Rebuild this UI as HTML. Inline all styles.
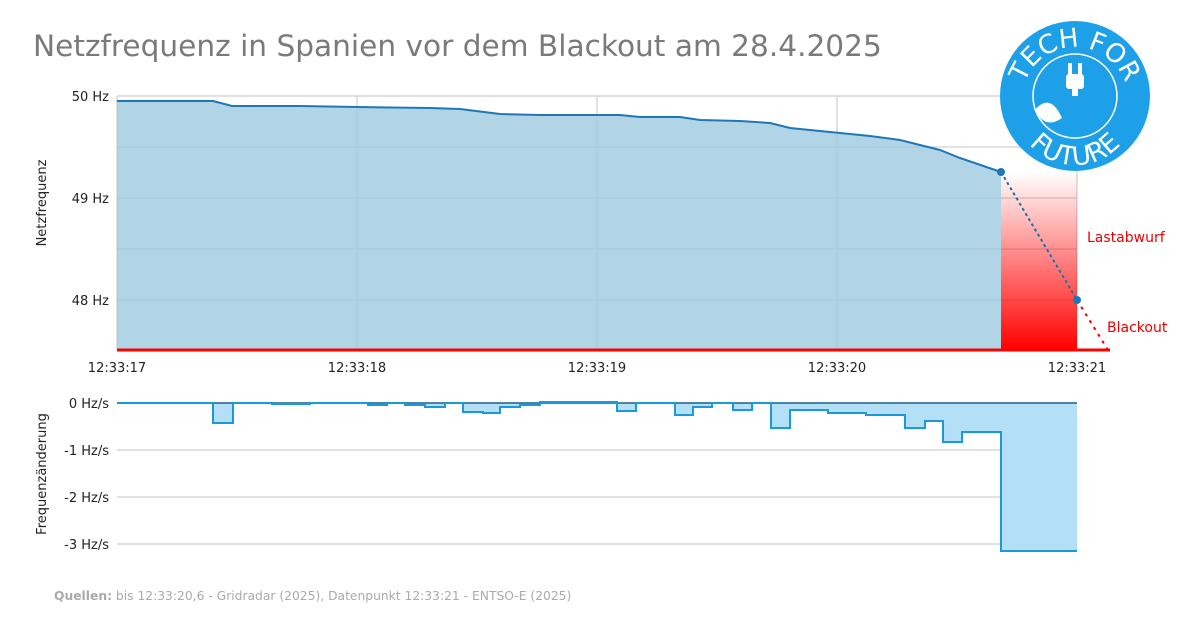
<!DOCTYPE html>
<html><head><meta charset="utf-8"><style>
body{margin:0;background:#fff;font-family:"DejaVu Sans",sans-serif}
</style></head><body>
<svg width="1200" height="630" xmlns="http://www.w3.org/2000/svg" font-family="DejaVu Sans, sans-serif">
<defs>
<linearGradient id="rg" x1="0" y1="0" x2="0" y2="1">
<stop offset="0" stop-color="#f00" stop-opacity="0"/>
<stop offset="1" stop-color="#f00" stop-opacity="1"/>
</linearGradient>
<path id="arcT" d="M1022,100 A53,53 0 0 1 1128,100" fill="none"/>
<path id="arcB" d="M1014,104 A61,61 0 0 0 1136,104" fill="none"/>
</defs>
<text x="33" y="56" font-size="29.6" fill="#7a7a7a">Netzfrequenz in Spanien vor dem Blackout am 28.4.2025</text>
<g stroke="#d8d8d8" stroke-width="1.5">
<line x1="117" y1="96" x2="1077" y2="96"/><line x1="117" y1="147" x2="1077" y2="147"/>
<line x1="117" y1="198" x2="1077" y2="198"/><line x1="117" y1="249" x2="1077" y2="249"/>
<line x1="117" y1="300" x2="1077" y2="300"/>
<line x1="117" y1="96" x2="117" y2="350"/><line x1="357" y1="96" x2="357" y2="350"/>
<line x1="597" y1="96" x2="597" y2="350"/><line x1="837" y1="96" x2="837" y2="350"/>
<line x1="1077" y1="96" x2="1077" y2="350"/>
</g>
<path d="M117,101 L213,101 L232,106 L300,106 L357,107 L430,108 L460,109 L500,114 L540,115 L620,115 L640,117 L680,117 L700,120 L740,121 L770,123 L790,128 L830,132 L870,136 L900,140 L940,150 L960,158 L1001,172 L1001,350 L117,350 Z" fill="#9ecae1" fill-opacity="0.8"/>
<rect x="1001" y="172" width="76" height="178" fill="url(#rg)"/>
<path d="M117,101 L213,101 L232,106 L300,106 L357,107 L430,108 L460,109 L500,114 L540,115 L620,115 L640,117 L680,117 L700,120 L740,121 L770,123 L790,128 L830,132 L870,136 L900,140 L940,150 L960,158 L1001,172" fill="none" stroke="#1f78b4" stroke-width="2"/>
<line x1="1001" y1="172" x2="1077" y2="300" stroke="#1f6fa8" stroke-width="2" stroke-dasharray="3,3"/>
<line x1="1077" y1="300" x2="1108" y2="350" stroke="#e00" stroke-width="2" stroke-dasharray="3,5"/>
<circle cx="1001" cy="172" r="4" fill="#1f78b4"/><circle cx="1077" cy="300" r="4" fill="#1f78b4"/>
<line x1="117" y1="350" x2="1110" y2="350" stroke="#f00" stroke-width="3"/>
<g font-size="13" fill="#222" text-anchor="end">
<text x="109" y="101">50 Hz</text><text x="109" y="203">49 Hz</text><text x="109" y="305">48 Hz</text>
</g>
<g font-size="13" fill="#222" text-anchor="middle">
<text x="117" y="372">12:33:17</text><text x="357" y="372">12:33:18</text><text x="597" y="372">12:33:19</text>
<text x="837" y="372">12:33:20</text><text x="1077" y="372">12:33:21</text>
</g>
<text transform="translate(46,203) rotate(-90)" font-size="13" fill="#222" text-anchor="middle">Netzfrequenz</text>
<text x="1087" y="242" font-size="14" fill="#e00">Lastabwurf</text>
<text x="1107" y="332" font-size="14" fill="#e00">Blackout</text>
<circle cx="1075" cy="96" r="75" fill="#1ea0e8"/>
<circle cx="1075" cy="96" r="42" fill="none" stroke="#fff" stroke-width="1.5"/>
<rect x="1066" y="74" width="18" height="15" rx="3" fill="#fff"/>
<rect x="1068" y="63" width="4" height="12" fill="#fff"/><rect x="1078" y="63" width="4" height="12" fill="#fff"/>
<rect x="1072" y="88" width="6" height="8" fill="#fff"/>
<path d="M1035,110 Q1050,92 1062,118 Q1045,130 1035,110 Z" fill="#fff"/>
<text font-size="26" fill="#fff" text-anchor="middle"><textPath href="#arcT" startOffset="50%">TECH FOR</textPath></text>
<text font-size="26" fill="#fff" text-anchor="middle"><textPath href="#arcB" startOffset="50%">FUTURE</textPath></text>
<g stroke="#d8d8d8" stroke-width="1.5">
<line x1="117" y1="450" x2="1077" y2="450"/><line x1="117" y1="497" x2="1077" y2="497"/><line x1="117" y1="544" x2="1077" y2="544"/>
</g>
<path d="M117,403 L213,403 L213,423 L233,423 L233,403 L272,403 L272,404 L310,404 L310,403 L368,403 L368,405 L387,405 L387,403 L405,403 L405,405 L425,405 L425,407 L445,407 L445,403 L463,403 L463,412 L483,412 L483,413 L500,413 L500,407 L520,407 L520,405 L540,405 L540,402 L617,402 L617,411 L636,411 L636,403 L675,403 L675,415 L693,415 L693,407 L712,407 L712,403 L733,403 L733,410 L752,410 L752,403 L771,403 L771,428 L790,428 L790,410 L828,410 L828,413 L866,413 L866,415 L905,415 L905,428 L925,428 L925,421 L943,421 L943,442 L962,442 L962,432 L1001,432 L1001,551 L1077,551 L1077,403 Z" fill="#b3e0f7"/>
<line x1="117" y1="403" x2="1077" y2="403" stroke="#1a5e8a" stroke-width="1.5"/>
<path d="M117,403 L213,403 L213,423 L233,423 L233,403 L272,403 L272,404 L310,404 L310,403 L368,403 L368,405 L387,405 L387,403 L405,403 L405,405 L425,405 L425,407 L445,407 L445,403 L463,403 L463,412 L483,412 L483,413 L500,413 L500,407 L520,407 L520,405 L540,405 L540,402 L617,402 L617,411 L636,411 L636,403 L675,403 L675,415 L693,415 L693,407 L712,407 L712,403 L733,403 L733,410 L752,410 L752,403 L771,403 L771,428 L790,428 L790,410 L828,410 L828,413 L866,413 L866,415 L905,415 L905,428 L925,428 L925,421 L943,421 L943,442 L962,442 L962,432 L1001,432 L1001,551 L1077,551" fill="none" stroke="#1a9ad9" stroke-width="2"/>
<g font-size="13" fill="#222" text-anchor="end">
<text x="109" y="408">0 Hz/s</text><text x="109" y="455">-1 Hz/s</text><text x="109" y="502">-2 Hz/s</text><text x="109" y="549">-3 Hz/s</text>
</g>
<text transform="translate(46,474) rotate(-90)" font-size="13" fill="#222" text-anchor="middle">Frequenzänderung</text>
<text x="54" y="600" font-size="12.3" fill="#aaa"><tspan font-weight="bold">Quellen:</tspan> bis 12:33:20,6 - Gridradar (2025), Datenpunkt 12:33:21 - ENTSO-E (2025)</text>
</svg>
</body></html>
